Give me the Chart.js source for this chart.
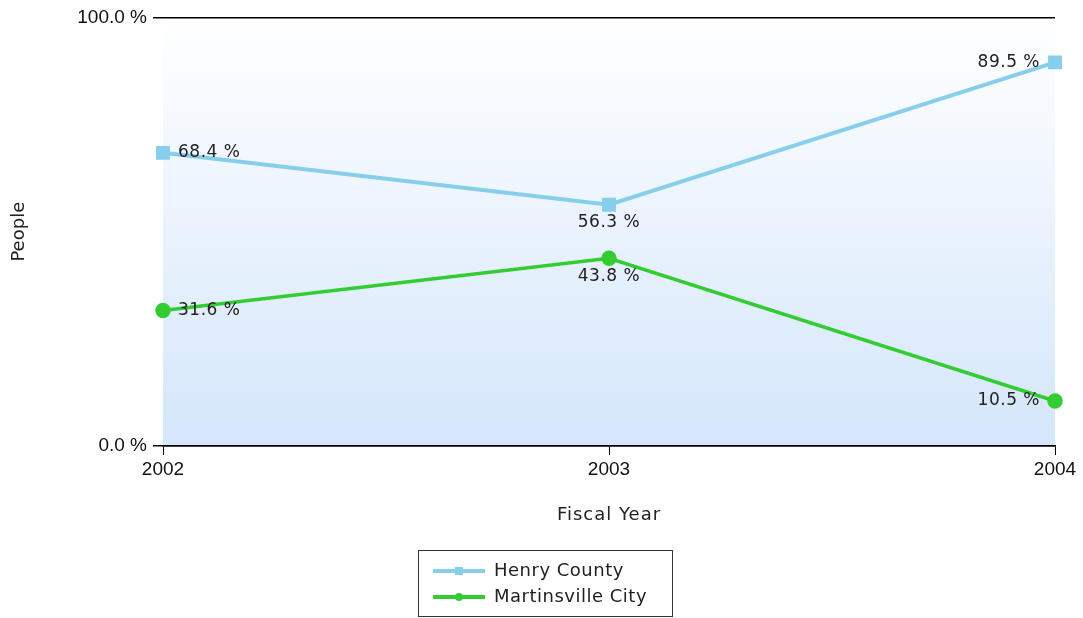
<!DOCTYPE html>
<html>
<head>
<meta charset="utf-8">
<script src="https://cdn.jsdelivr.net/npm/chart.js@4.4.1/dist/chart.umd.min.js"></script>
<style>
  html, body { margin: 0; padding: 0; background: #fff; }
  #wrap { width: 1083px; height: 618px; }
</style>
</head>
<body>
<div id="wrap"><canvas id="lineChart" width="1083" height="618"></canvas></div>
<script>
const years = ['2002', '2003', '2004'];
const henryCounty = [68.4, 56.3, 89.5];
const martinsvilleCity = [31.6, 43.8, 10.5];
const yTicks = [0, 100];

const labelFont = '17px "DejaVu Sans"';
const titleFont = '18px "DejaVu Sans"';

// background gradient behind the plot area
const bgPlugin = {
    id: 'bgGradient',
    beforeDraw(chart) {
        const { ctx, chartArea: a } = chart;
        const g = ctx.createLinearGradient(0, a.top, 0, a.bottom);
        g.addColorStop(0, '#ffffff');
        g.addColorStop(1, '#d4e6fb');
        ctx.save();
        ctx.fillStyle = g;
        ctx.fillRect(a.left, a.top, a.right - a.left, a.bottom - a.top);
        ctx.restore();
    }
};

// value labels next to each point
const valueLabels = {
    id: 'valueLabels',
    afterDatasetsDraw(chart) {
        const ctx = chart.ctx;
        ctx.save();
        ctx.font = labelFont;
        ctx.letterSpacing = '0.5px';
        ctx.fillStyle = '#222';
        ctx.textBaseline = 'middle';
        chart.data.datasets.forEach((ds, di) => {
            const meta = chart.getDatasetMeta(di);
            meta.data.forEach((pt, i) => {
                const txt = ds.data[i].toFixed(1) + ' %';
                if (i === 0) {
                    ctx.textAlign = 'left';
                    ctx.fillText(txt, pt.x + 15, pt.y);
                } else if (i === meta.data.length - 1) {
                    ctx.textAlign = 'right';
                    ctx.fillText(txt, pt.x - 15, pt.y);
                } else {
                    ctx.textAlign = 'center';
                    ctx.fillText(txt, pt.x, pt.y + 18);
                }
            });
        });
        ctx.restore();
    }
};

// axis titles and the boxed legend
const extras = {
    id: 'extras',
    afterDraw(chart) {
        const { ctx, chartArea: a } = chart;
        ctx.save();
        ctx.font = titleFont;
        ctx.fillStyle = '#222';
        ctx.textAlign = 'center';
        ctx.textBaseline = 'middle';
        ctx.letterSpacing = '1px';
        ctx.fillText('Fiscal Year', (a.left + a.right) / 2, 515);

        ctx.translate(19, (a.top + a.bottom) / 2);
        ctx.rotate(-Math.PI / 2);
        ctx.letterSpacing = '0px';
        ctx.fillText('People', 0, 0);
        ctx.setTransform(1, 0, 0, 1, 0, 0);

        // legend
        ctx.strokeStyle = '#333';
        ctx.lineWidth = 1;
        ctx.strokeRect(418.5, 550.5, 254, 66);
        chart.data.datasets.forEach((ds, i) => {
            const y = 571 + i * 26;
            ctx.strokeStyle = ds.borderColor;
            ctx.lineWidth = 4;
            ctx.beginPath();
            ctx.moveTo(433, y);
            ctx.lineTo(485, y);
            ctx.stroke();
            ctx.fillStyle = ds.borderColor;
            if (ds.pointStyle === 'rect') {
                ctx.fillRect(455, y - 4, 8, 8);
            } else {
                ctx.beginPath();
                ctx.arc(459, y, 4, 0, Math.PI * 2);
                ctx.fill();
            }
            ctx.fillStyle = '#222';
            ctx.textAlign = 'left';
            ctx.letterSpacing = '0.5px';
            ctx.fillText(ds.label, 494, y);
        });
        ctx.restore();
    }
};

new Chart(document.getElementById('lineChart'), {
    type: 'line',
    data: {
        labels: years,
        datasets: [{
            label: 'Henry County',
            data: henryCounty,
            borderColor: '#87ceeb',
            backgroundColor: '#87ceeb',
            borderWidth: 4,
            pointStyle: 'rect',
            pointRadius: 7,
            pointHoverRadius: 7,
            tension: 0
        }, {
            label: 'Martinsville City',
            data: martinsvilleCity,
            borderColor: '#33cc33',
            backgroundColor: '#33cc33',
            borderWidth: 3.5,
            pointStyle: 'circle',
            pointRadius: 6,
            pointHoverRadius: 6,
            tension: 0
        }]
    },
    options: {
        responsive: false,
        animation: false,
        layout: { padding: { left: 0, right: 28, top: 13, bottom: 0 } },
        plugins: {
            legend: { display: false },
            tooltip: { enabled: false }
        },
        scales: {
            x: {
                offset: false,
                grid: { display: true, drawOnChartArea: false, color: '#000', tickLength: 9 },
                border: { display: true, color: '#000', width: 1.5 },
                ticks: { color: '#111', padding: 3, font: { family: 'Liberation Sans', size: 19 }, maxRotation: 0 },
                afterFit(scale) { scale.height = 172; }
            },
            y: {
                min: 0,
                max: 100,
                afterBuildTicks(scale) { scale.ticks = yTicks.map(v => ({ value: v })); },
                grid: { color: '#000', tickLength: 10, lineWidth: 1.5 },
                border: { display: false },
                ticks: {
                    color: '#111',
                    padding: 6,
                    font: { family: 'Liberation Sans', size: 19 },
                    callback: v => v.toFixed(1) + ' %'
                },
                afterFit(scale) { scale.width = 163; }
            }
        }
    },
    plugins: [bgPlugin, valueLabels, extras]
});
</script>
</body>
</html>
